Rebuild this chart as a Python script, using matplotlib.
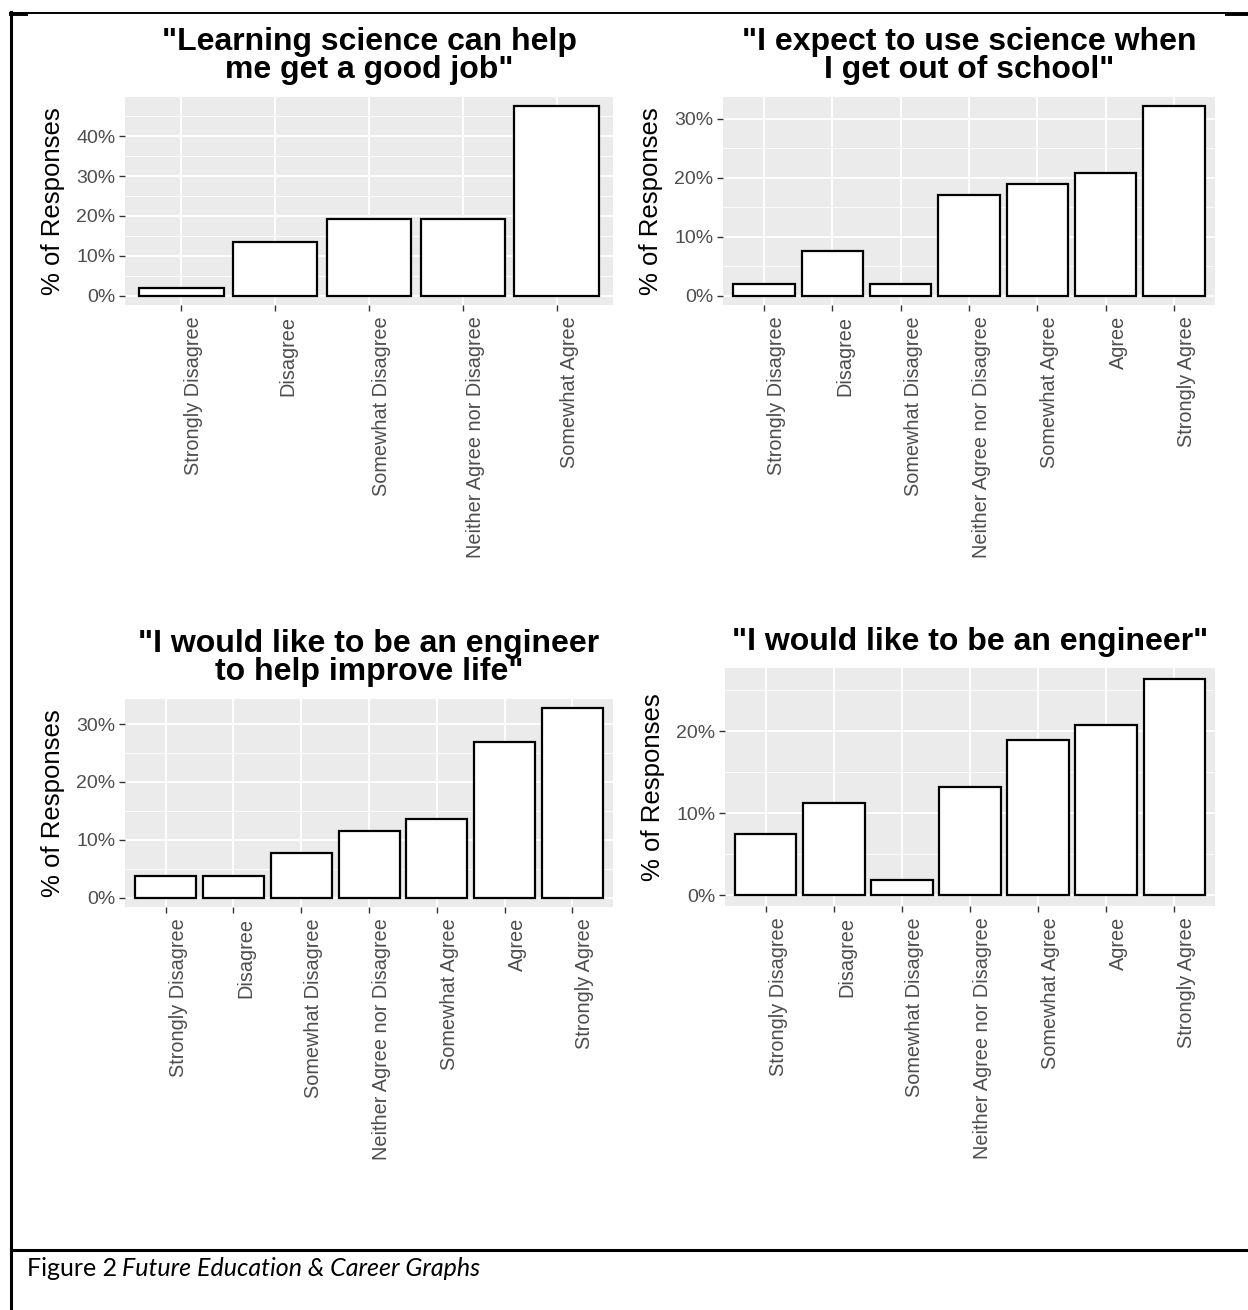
import numpy as np
import matplotlib
matplotlib.use("Agg")
from matplotlib import pyplot as plt
from matplotlib.lines import Line2D
from matplotlib.ticker import FuncFormatter, MultipleLocator
import matplotlib.transforms as mtrans

plt.rcParams['font.family'] = ['Liberation Sans', 'DejaVu Sans']

# survey responses, % of students
cats5 = ["Strongly Disagree", "Disagree", "Somewhat Disagree",
         "Neither Agree nor Disagree", "Somewhat Agree"]
cats7 = ["Strongly Disagree", "Disagree", "Somewhat Disagree",
         "Neither Agree nor Disagree", "Somewhat Agree", "Agree", "Strongly Agree"]

good_job = [1.9, 13.5, 19.2, 19.2, 47.5]
use_science = [1.9, 7.5, 1.9, 17.0, 18.9, 20.8, 32.1]
engineer_life = [3.8, 3.8, 7.7, 11.5, 13.5, 26.9, 32.7]
engineer = [7.5, 11.3, 1.9, 13.2, 18.9, 20.8, 26.4]

titles = ['"Learning science can help\nme get a good job"',
          '"I expect to use science when\nI get out of school"',
          '"I would like to be an engineer\nto help improve life"',
          '"I would like to be an engineer"']

W, H = 1248, 1310
fig = plt.figure(figsize=(W / 100, H / 100), dpi=100)


def px_axes(left, top, right, bottom):
    return fig.add_axes([left / W, 1 - bottom / H, (right - left) / W, (bottom - top) / H])


def gg_bar(ax, cats, vals, title, title_y):
    x = np.arange(1, len(cats) + 1)
    ax.set_facecolor("#EBEBEB")
    ax.bar(x, vals, width=0.9, color="white", edgecolor="black", linewidth=1.6, zorder=3)
    vmax = max(vals)
    ax.set_ylim(-0.05 * vmax, 1.05 * vmax)
    ax.set_xlim(0.4, len(cats) + 0.6)
    ax.yaxis.set_major_locator(MultipleLocator(10))
    ax.yaxis.set_minor_locator(MultipleLocator(5))
    ax.yaxis.set_major_formatter(FuncFormatter(lambda v, p: "%d%%" % v))
    ax.set_xticks(x)
    ax.set_xticklabels(cats, rotation=90, ha="left", va="top", fontsize=14.3, color="#4D4D4D")
    ax.tick_params(axis="x", which="major", length=4, width=1, color="#333333", pad=4)
    ax.tick_params(axis="y", which="major", length=4, width=1, color="#333333", pad=3,
                   labelsize=14, labelcolor="#4D4D4D")
    ax.tick_params(axis="y", which="minor", length=0)
    ax.grid(True, which="major", color="white", linewidth=1.3, zorder=0)
    ax.grid(True, which="minor", axis="y", color="white", linewidth=0.6, zorder=0)
    ax.set_axisbelow(True)
    for s in ax.spines.values():
        s.set_visible(False)
    ax.set_ylabel("% of Responses", fontsize=18.5, color="black", labelpad=8)
    bb = ax.get_position()
    fig.text(bb.x0 + bb.width / 2, 1 - title_y / H, title, ha="center", va="center",
             fontsize=23, fontweight="bold", linespacing=0.92)
    # shift rotated tick labels to the right of the tick, like ggplot's vjust=1
    off = mtrans.ScaledTranslation(3 / 100, 0, fig.dpi_scale_trans)
    for lab in ax.get_xticklabels():
        lab.set_transform(lab.get_transform() + off)


ax1 = px_axes(125, 97, 613, 305)
gg_bar(ax1, cats5, good_job, titles[0], 56)
ax2 = px_axes(723, 97, 1215, 305)
gg_bar(ax2, cats7, use_science, titles[1], 56)
ax3 = px_axes(125, 699, 613, 907)
gg_bar(ax3, cats7, engineer_life, titles[2], 658)
ax4 = px_axes(725, 668, 1215, 906)
gg_bar(ax4, cats7, engineer, titles[3], 642)


# document table borders
def hline(y, x0, x1, lw):
    fig.add_artist(Line2D([x0 / W, x1 / W], [1 - y / H, 1 - y / H], color="black", linewidth=lw))


hline(13, 11, 1227, 1.4)
hline(13.5, 11, 26, 2.8)
hline(13.5, 1227, 1248, 2.8)
hline(1250, 11, 1248, 2.2)
fig.add_artist(Line2D([11 / W, 11 / W], [1 - 12 / H, 0], color="black", linewidth=2.2))

cap_font = ["Lato", "DejaVu Sans"]
t1 = fig.text(27 / W, 1 - 1268 / H, "Figure 2", fontsize=18, va="center", ha="left",
              family=cap_font)
r = fig.canvas.get_renderer()
ext = t1.get_window_extent(renderer=r)
fig.text((ext.x1 + 5) / W, 1 - 1268 / H, "Future Education & Career Graphs", fontsize=18,
         va="center", ha="left", style="italic", family=cap_font)

fig.savefig("out.png", dpi=100)
